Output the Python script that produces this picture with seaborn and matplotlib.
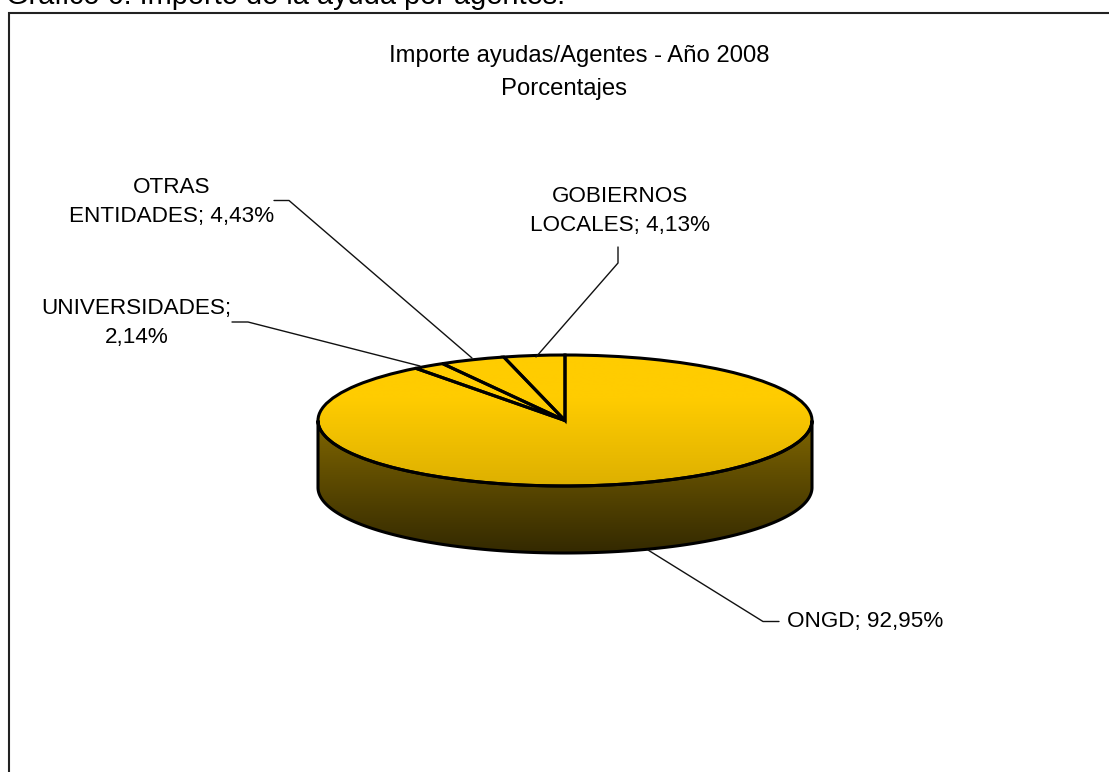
import numpy as np
import matplotlib
matplotlib.use("Agg")
import matplotlib.pyplot as plt
from matplotlib.patches import Ellipse, Polygon
import seaborn as sns

categories = ["GOBIERNOS\nLOCALES", "OTRAS\nENTIDADES", "UNIVERSIDADES", "ONGD"]
label_seps = ["; ", "; ", ";\n", "; "]
values = [4.13, 4.43, 2.14, 92.95]
title_lines = ["Importe ayudas/Agentes - Año 2008", "Porcentajes"]
caption = "Gráfico 6: Importe de la ayuda por agentes."

sns.set_theme(style="white")
plt.rcParams["font.family"] = ["Liberation Sans", "DejaVu Sans"]

W, H = 1109, 772
fig = plt.figure(figsize=(W / 100, H / 100), dpi=100, facecolor="white")

# overlay in pixel coordinates for frame, text and leader lines
ov = fig.add_axes([0, 0, 1, 1], zorder=2)
ov.set_xlim(0, W)
ov.set_ylim(H, 0)
ov.axis("off")
ov.patch.set_alpha(0)

# pie axes
cx, cy, rx, ry, depth = 565, 420.5, 247, 65.5, 67
left, right, top, bottom = 300, 830, 340, 570
ax = fig.add_axes([left / W, 1 - bottom / H, (right - left) / W, (bottom - top) / H], zorder=1)

top_cmap = sns.blend_palette(["#FFCC00", "#FFCC00", "#EEBE00", "#DDB000"], as_cmap=True)
side_cmap = sns.blend_palette(["#806600", "#332900"], as_cmap=True)

wedges, _ = ax.pie(values, startangle=90, counterclock=True, radius=1,
                   wedgeprops=dict(facecolor="none", edgecolor="black", linewidth=2.2, joinstyle="miter"))
xlim = ((left - cx) / rx, (right - cx) / rx)
ylim = ((cy - bottom) / ry, (cy - top) / ry)
ax.set_aspect("auto")
d = depth / ry

t = np.linspace(np.pi, 2 * np.pi, 300)
side_xy = np.r_[np.c_[np.cos(t), np.sin(t) - d], np.c_[np.cos(t[::-1]), np.sin(t[::-1])]]
side = Polygon(side_xy, closed=True, facecolor="none", edgecolor="black", linewidth=2.2, zorder=3)
ax.add_patch(side)
grad = np.linspace(0, 1, 256).reshape(-1, 1)
im_side = ax.imshow(grad, cmap=side_cmap, extent=(-1, 1, -1 - d, 0), origin="upper",
                    aspect="auto", zorder=1)
im_side.set_clip_path(side)
top_el = Ellipse((0, 0), 2, 2, facecolor="none", edgecolor="none", transform=ax.transData)
ax.add_patch(top_el)
im_top = ax.imshow(grad, cmap=top_cmap, extent=(-1, 1, -1, 1), origin="upper",
                   aspect="auto", zorder=2)
im_top.set_clip_path(top_el)
for w in wedges:
    w.set_zorder(4)
ax.set_xlim(*xlim)
ax.set_ylim(*ylim)
ax.axis("off")

# frame, cut by the image edge at right and bottom
ov.plot([8.5, 8.5, W], [H, 13, 13], color="#222222", lw=1.5, solid_joinstyle="miter")

# caption and titles
ov.text(6, 4, caption, fontsize=20.9, color="black", ha="left", va="baseline")
ov.text(579, 56, title_lines[0], fontsize=17.2, ha="center", va="center", color="black")
ov.text(564, 89, title_lines[1], fontsize=17.2, ha="center", va="center", color="black")

# data labels
labels = [f"{c}{s}{v:.2f}%".replace(".", ",") for c, s, v in zip(categories, label_seps, values)]
pos = [(620, 211), (172, 202), (136.5, 323), (865, 621.5)]
for lab, (x, y) in zip(labels, pos):
    ov.text(x, y, lab, fontsize=16.2, ha="center", va="center", color="black", linespacing=1.5)

# leader lines
leaders = [([536, 618, 618], [357, 263, 247]),
           ([472, 289, 274], [358, 200.5, 200.5]),
           ([420, 248, 232], [366, 322, 322]),
           ([648, 763, 779], [550, 621.5, 621.5])]
for xs, ys in leaders:
    ov.plot(xs, ys, color="#111111", lw=1.0)

fig.savefig("out.png", dpi=100, facecolor="white")
